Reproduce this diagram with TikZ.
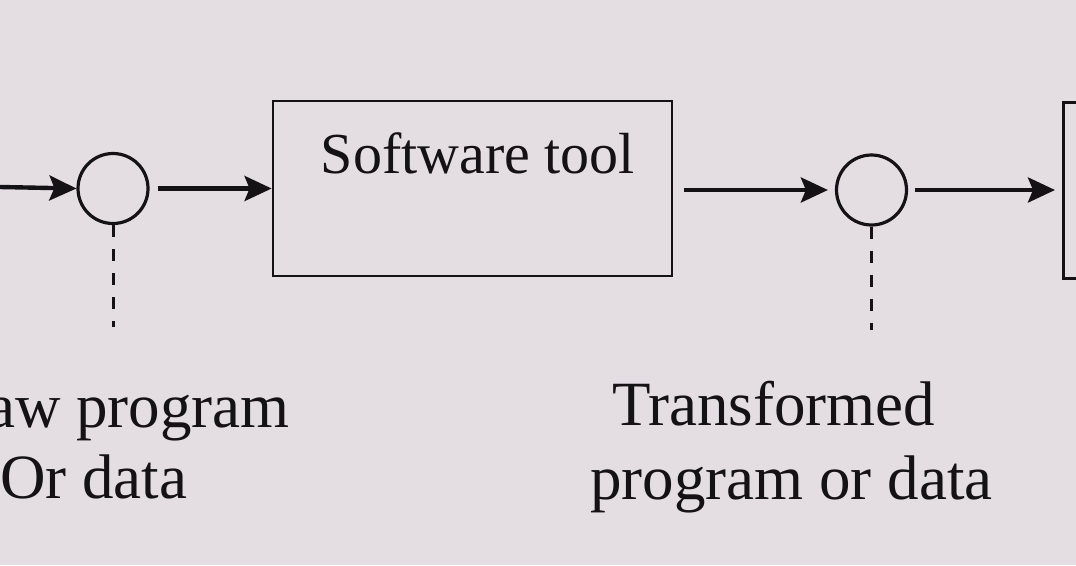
\documentclass[tikz,border=0pt]{standalone}
\usepackage{fontspec}
\setmainfont{Liberation Serif}
\usetikzlibrary{arrows.meta}
\definecolor{paper}{HTML}{E4DEE3}
\definecolor{ink}{HTML}{141214}
\begin{document}
\begin{tikzpicture}[x=1pt,y=-1pt,
  flow/.style={draw=ink,line width=4.4pt,-{Stealth[length=27pt,width=25pt,inset=5pt]}},
  blob/.style={circle,draw=ink,line width=3.2pt,minimum size=70pt,inner sep=0pt},
  toolbox/.style={draw=ink,line width=2.8pt,inner sep=0pt},
  tap/.style={draw=ink,line width=3pt,dash pattern=on 12pt off 12pt},
  lbl/.style={text=ink,inner sep=0pt,font=\fontsize{63}{70}\selectfont}]
\useasboundingbox (0,0) rectangle (1076,565);
\fill[paper] (0,0) rectangle (1076,565);
\begin{scope}
\clip (0,0) rectangle (1076,565);
% nodes
\node[blob] (c1) at (113,188.5) {};
\node[blob] (c2) at (871.5,190) {};
\node[toolbox,minimum width=399pt,minimum height=175pt] (tool) at (472.5,188.5) {};
\node[text=ink,inner sep=0pt,font=\fontsize{58}{64}\selectfont,anchor=base] (tooltxt) at (478,173) {Software tool};
\node[toolbox,minimum width=200pt,minimum height=176pt,anchor=north west] (next) at (1062,101) {};
\coordinate (start) at (0,187);
\coordinate (d1) at (113,327);
\coordinate (d2) at (871.5,330);
% connectors
\draw[flow] (start) -- (c1.west);
\draw[flow,shorten <=8pt] (c1.east) -- (c1.east -| tool.west);
\draw[flow,shorten <=11pt,shorten >=7pt] (c2.west -| tool.east) -- (c2.west);
\draw[flow,shorten <=7pt,shorten >=7pt] (c2.east) -- (c2.east -| next.west);
\draw[tap] (c1.south) -- (d1);
\draw[tap] (c2.south) -- (d2);
% labels
\node[lbl,anchor=base east] (raw1) at (290,427) {Raw program};
\node[lbl,anchor=base west] (raw2) at (0,498) {Or data};
\node[lbl,anchor=base west] (tr1) at (612,425) {Transformed};
\node[lbl,anchor=base west] (tr2) at (590,499) {program or data};
\end{scope}
\end{tikzpicture}
\end{document}
